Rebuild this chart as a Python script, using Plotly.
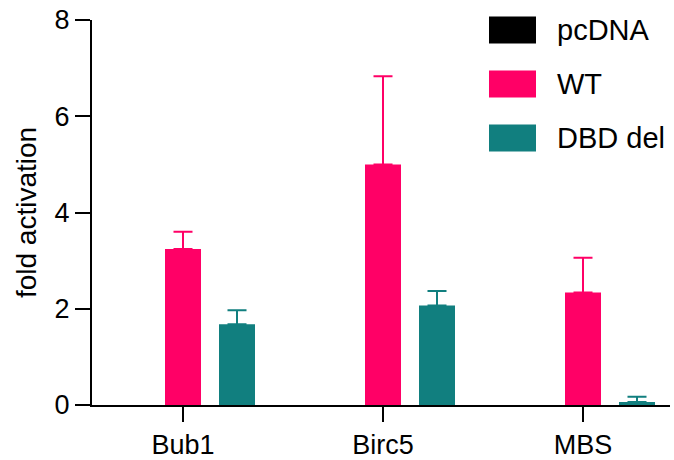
import plotly.graph_objects as go

categories = ["Bub1", "Birc5", "MBS"]
series_names = ["pcDNA", "WT", "DBD del"]
pcdna_vals = [0, 0, 0]
pcdna_err = [0, 0, 0]
wt_vals = [3.24, 5.0, 2.34]
wt_err = [0.36, 1.83, 0.72]
dbd_vals = [1.68, 2.07, 0.06]
dbd_err = [0.29, 0.30, 0.11]
colors = ["#000000", "#FF0066", "#117F7F"]
y_ticks = [0, 2, 4, 6, 8]

FONT = "Arial, Liberation Sans, sans-serif"
AX_SIZE = 27
LEG_SIZE = 29

fig = go.Figure()
for name, vals, errs, col in zip(series_names, [pcdna_vals, wt_vals, dbd_vals],
                                 [pcdna_err, wt_err, dbd_err], colors):
    has_err = any(e > 0 for e in errs)
    fig.add_trace(go.Bar(
        x=categories, y=vals, name=name,
        marker=dict(color=col, line=dict(width=0)),
        error_y=dict(type="data", symmetric=False, array=errs,
                     arrayminus=[0] * len(errs), color=col,
                     thickness=2, width=9.5, visible=has_err),
        showlegend=False,
    ))

# custom legend (big swatches like the reference)
L, R, T, B = 92, 670, 20, 405
W, H = R - L, B - T
def px(x):
    return (x - L) / W
def py(y):
    return (B - y) / H

shapes = []
annotations = []
row_centers = [30, 84, 138]
for name, col, yc in zip(series_names, colors, row_centers):
    shapes.append(dict(type="rect", xref="paper", yref="paper",
                       x0=px(489), x1=px(536), y0=py(yc + 13.5), y1=py(yc - 13.5),
                       fillcolor=col, line=dict(width=0)))
    annotations.append(dict(xref="paper", yref="paper", x=px(555), y=py(yc),
                            text=name, showarrow=False, xanchor="left", yanchor="middle",
                            font=dict(family=FONT, size=LEG_SIZE, color="black")))

fig.update_layout(
    width=674, height=460,
    margin=dict(l=L, r=674 - R, t=T, b=460 - B, autoexpand=False),
    paper_bgcolor="white", plot_bgcolor="white",
    barmode="group", bargap=0.19, bargroupgap=1/3,
    font=dict(family=FONT, size=AX_SIZE, color="black"),
    shapes=shapes, annotations=annotations,
    xaxis=dict(range=[-0.455, 2.435], showline=True, linecolor="black", linewidth=2,
               ticks="outside", ticklen=15, tickwidth=2, tickcolor="black",
               showgrid=False, zeroline=False, automargin=False,
               tickfont=dict(family=FONT, size=AX_SIZE, color="black")),
    yaxis=dict(range=[0, 8], tickvals=y_ticks, showline=True, linecolor="black", linewidth=2,
               ticks="outside", ticklen=15, tickwidth=2, tickcolor="black",
               showgrid=False, zeroline=False, automargin=False,
               title=dict(text="fold activation", standoff=10,
                          font=dict(family=FONT, size=28, color="black")),
               tickfont=dict(family=FONT, size=AX_SIZE, color="black")),
)

fig.write_html("out.html", config={"displayModeBar": False},
               post_script="document.body.style.margin='0';")
